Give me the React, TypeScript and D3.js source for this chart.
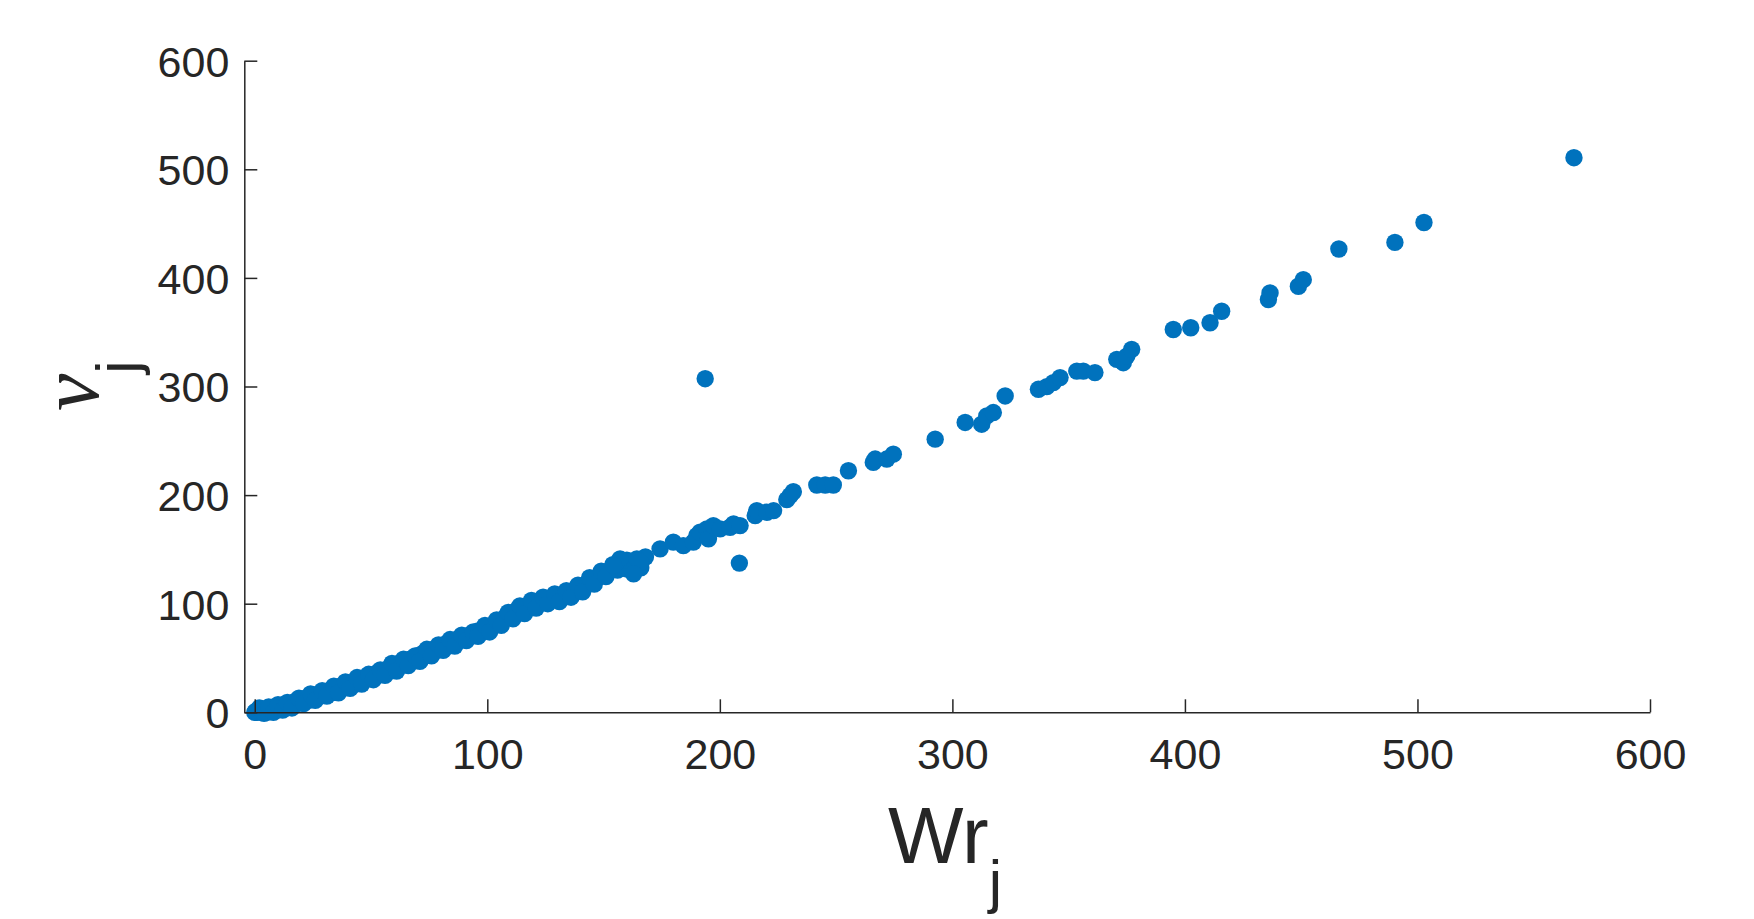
import React, { useEffect, useRef } from 'react';
import * as d3 from 'd3';

// Wr_j values (x) and nu_j values (y)
const wrValues = [
  0, 0.5, 1, 1.5, 2, 3, 3, 4, 5, 5, 6, 7, 7, 8, 9, 9, 10, 11, 11, 12, 13, 13, 14, 15, 15, 16, 17, 18, 18, 19,
  20, 21, 22, 23, 24, 25, 25, 26, 27, 28, 29, 30, 31, 32, 33, 34, 35, 36, 37, 38, 39, 40, 41, 42, 43, 44, 45,
  46, 47, 48, 49, 50, 51, 52, 53, 54, 55, 56, 57, 58, 59, 60, 61, 62, 63, 64, 65, 66, 67, 68, 69, 70, 71, 72,
  73, 74, 75, 76, 77, 78, 79, 80, 81, 82, 83, 84, 85, 86, 87, 88, 89, 90, 91, 92, 93, 94, 95, 96, 97, 98, 99,
  100, 101, 102, 103, 104, 105, 106, 107, 108, 109, 110, 111, 112, 113, 114, 115, 116, 117, 118, 119, 120,
  121, 122, 123, 124, 125, 126, 127, 128, 130, 131, 133, 134, 135, 137, 138, 139, 140, 142, 143, 145, 146,
  148, 149, 151, 152, 154, 155, 157,
  2, 4, 6, 8, 10, 12, 14, 16, 19, 21, 24, 26, 29, 31, 34, 36, 39, 41, 44, 46, 49, 51, 54, 56, 59, 61, 64, 66,
  69, 71, 74, 76, 79, 81, 84, 86, 89, 91, 94, 96, 99, 101, 104, 106, 109, 111, 114, 116, 119, 121, 124, 126,
  129, 131, 134, 136, 139, 141, 144, 146, 149, 151, 154, 156, 160, 160, 168, 166,
  157.1, 154.3, 164.3, 165.7, 162.9, 174.3, 180, 184.3, 188.6, 190.1, 191.5, 194.4, 195.1, 197.2, 200.1,
  204.4, 205.9, 208.7, 215.2, 215.9, 220.2, 223.1, 228.8, 230.2, 231.6, 241.7, 245.3, 248.8, 255.3, 193.7,
  208.4, 266, 266.8, 271.8, 274.6, 292.6, 305.5, 312.6, 314.8, 317.6, 322.7, 337, 340.6, 343.4, 346.3, 353.5,
  356.3, 361.3, 370.7, 373.5, 375, 377.1, 395, 402.5, 410.8, 415.8, 435.9, 436.6, 448.8, 450.9, 466.2, 490.3,
  502.8, 567.3,
];

const nuValues = [
  0, 1, 0, 2, 1, 0, 2, 1, 3, 0, 2, 4, 1, 3, 5, 2, 4, 6, 3, 5, 7, 4, 6, 8, 6, 7, 9, 8, 11, 10,
  12, 10, 13, 11, 14, 15, 12, 16, 14, 17, 18, 17, 19, 20, 18, 21, 22, 21, 24, 23, 25, 24, 26, 27, 26, 29, 28,
  31, 30, 33, 32, 34, 33, 35, 37, 36, 38, 37, 40, 39, 42, 41, 43, 45, 44, 46, 47, 46, 49, 50, 49, 52, 51, 54,
  53, 55, 56, 55, 58, 57, 59, 61, 60, 63, 62, 64, 65, 64, 67, 68, 67, 69, 70, 70, 72, 71, 73, 75, 74, 76, 77,
  76, 78, 79, 80, 82, 83, 85, 86, 88, 89, 91, 90, 93, 92, 95, 96, 94, 98, 97, 100, 101,
  99, 102, 101, 103, 104, 103, 105, 106, 107, 105, 108, 109, 111, 110, 112, 114, 115, 117, 119, 121, 123,
  125, 127, 129, 130, 133, 135, 137,
  4, -1, 5, 0, 7, 2, 9, 4, 13, 8, 17, 11, 20, 15, 24, 18, 28, 22, 32, 26, 35, 30, 39, 34, 45, 38, 49, 43,
  52, 47, 58, 52, 62, 57, 67, 61, 71, 66, 74, 70, 80, 74, 85, 80, 92, 86, 98, 91, 103, 96, 106, 100,
  109, 102, 112, 106, 117, 111, 124, 118, 130, 125, 136, 131, 132, 140, 143, 133,
  141.3, 135.2, 141.3, 138.3, 127.5, 150.5, 156.7, 153.5, 156.7, 162.7, 165.8, 168.9, 159.7, 171.9, 168.9,
  170.4, 173.5, 171.9, 181.1, 185.7, 184.2, 185.7, 195.8, 199.5, 203.1, 209.3, 209.3, 209.3, 222.4, 307.2,
  137.4, 230.1, 233.2, 233.2, 237.7, 251.5, 266.9, 265.3, 272.9, 276, 291.3, 297.4, 299.9, 303.6, 308.2, 314.2,
  314.2, 312.8, 325, 321.9, 328, 334.2, 352.5, 354.1, 358.7, 369.3, 380.1, 386.2, 392.3, 398.4, 426.6, 432.7,
  451, 510.7,
];

const xTicks = [0, 100, 200, 300, 400, 500, 600];
const yTicks = [0, 100, 200, 300, 400, 500, 600];

const W = 1754, H = 919;
const axisColor = '#262626';
const tickFont = '"Liberation Sans", Arial, Helvetica, sans-serif';

export default function App() {
  const ref = useRef<SVGSVGElement>(null);

  useEffect(() => {
    const svg = d3.select(ref.current);
    svg.selectAll('*').remove();

    const x = d3.scaleLinear().domain([-4.5, 600]).range([244.3, 1650]);
    const y = d3.scaleLinear().domain([0, 600]).range([712.3, 60.7]);

    // points
    const pts = wrValues.map((w, i) => ({ w, n: nuValues[i] }));
    svg.append('g')
      .selectAll('circle')
      .data(pts)
      .enter().append('circle')
        .attr('cx', d => x(d.w))
        .attr('cy', d => y(d.n))
        .attr('r', 8.7)
        .attr('fill', '#0072BD');

    // x axis, ticks pointing inward
    const gx = svg.append('g')
      .attr('transform', 'translate(0,' + y(0) + ')')
      .call(d3.axisBottom(x).tickValues(xTicks).tickSizeInner(-13).tickSizeOuter(0).tickFormat(d3.format('d')));
    gx.attr('font-family', tickFont).attr('font-size', 43);
    gx.select('.domain').attr('stroke', axisColor).attr('stroke-width', 1.5);
    gx.selectAll('.tick line').attr('stroke', axisColor).attr('stroke-width', 1.5);
    gx.selectAll('.tick text')
      .attr('fill', axisColor)
      .attr('y', 57)
      .attr('dy', 0);

    // y axis
    const gy = svg.append('g')
      .attr('transform', 'translate(' + x.range()[0] + ',0)')
      .call(d3.axisLeft(y).tickValues(yTicks).tickSizeInner(-13).tickSizeOuter(0).tickPadding(15).tickFormat(d3.format('d')));
    gy.attr('font-family', tickFont).attr('font-size', 43);
    gy.select('.domain').attr('stroke', axisColor).attr('stroke-width', 1.5);
    gy.selectAll('.tick line').attr('stroke', axisColor).attr('stroke-width', 1.5);
    gy.selectAll('.tick text')
      .attr('fill', axisColor)
      .attr('dy', '0.36em');

    // x label: Wr_j
    const xl = svg.append('text')
      .attr('x', 888)
      .attr('y', 863)
      .attr('font-family', tickFont)
      .attr('fill', axisColor);
    xl.append('tspan').attr('font-size', 80).text('Wr');
    xl.append('tspan').attr('font-size', 60).attr('dy', 39).text('j');

    // y label: nu_j, rotated
    const yl = svg.append('text')
      .attr('transform', 'translate(98,411) rotate(-90)')
      .attr('fill', axisColor);
    yl.append('tspan')
      .attr('font-family', '"Liberation Serif", "DejaVu Serif", serif')
      .attr('font-style', 'italic')
      .attr('font-size', 84)
      .text('ν');
    yl.append('tspan')
      .attr('font-family', tickFont)
      .attr('font-size', 60)
      .attr('dy', 40)
      .text('j');
  }, []);

  return (
    <svg ref={ref} width={W} height={H}
      style={{ position: 'absolute', left: 0, top: 0, background: '#fff' }} />
  );
}
